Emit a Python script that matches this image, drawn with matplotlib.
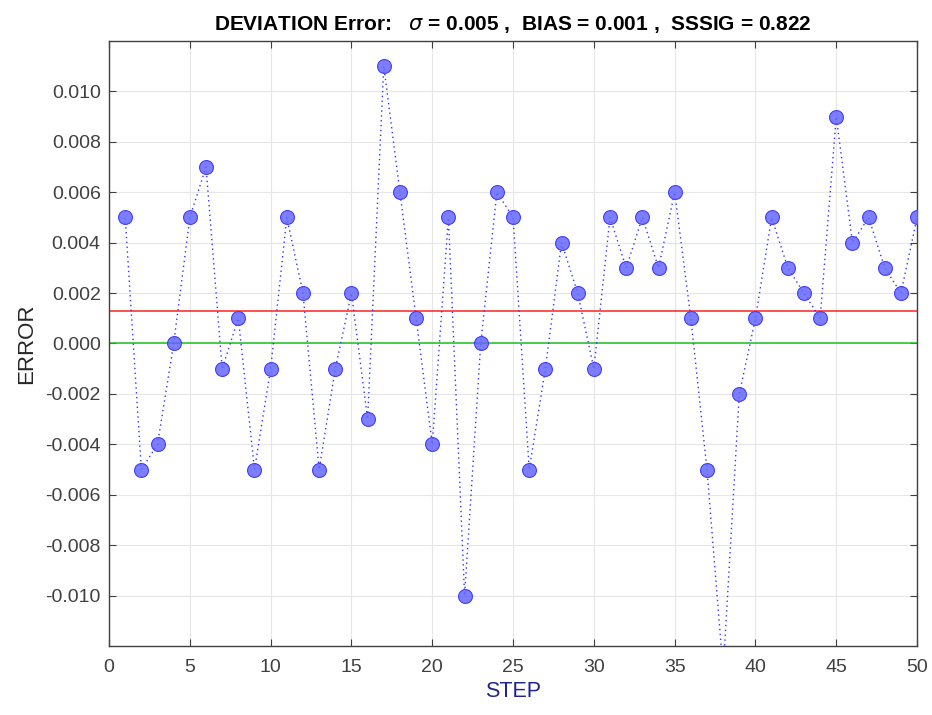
import numpy as np
import matplotlib
matplotlib.use('Agg')
import matplotlib.pyplot as plt

plt.rcParams['font.family'] = ['Liberation Sans', 'DejaVu Sans']

steps = list(range(1, 51))
errors = [0.005, -0.005, -0.004, 0.000, 0.005, 0.007, -0.001, 0.001, -0.005, -0.001,
          0.005, 0.002, -0.005, -0.001, 0.002, -0.003, 0.011, 0.006, 0.001, -0.004,
          0.005, -0.010, 0.000, 0.006, 0.005, -0.005, -0.001, 0.004, 0.002, -0.001,
          0.005, 0.003, 0.005, 0.003, 0.006, 0.001, -0.005, -0.013, -0.002, 0.001,
          0.005, 0.003, 0.002, 0.001, 0.009, 0.004, 0.005, 0.003, 0.002, 0.005]
bias = np.mean(errors)
sigma = 0.005
sssig = 0.822

fig = plt.figure(figsize=(9.32, 7.15), dpi=100)
ax = fig.add_axes([0.117, 0.0965, 0.867, 0.8462])

ax.axhline(bias, color='#ff2020', lw=1.1, zorder=2)
ax.axhline(0, color='#1fbf1f', lw=1.1, zorder=2)
ax.plot(steps, errors, color=(0.2, 0.2, 1.0), lw=1.0, dashes=(1, 2.5), zorder=3)
ax.plot(steps, errors, 'o', ms=10, mfc=(0.4, 0.4, 1.0, 0.85), mec=(0.25, 0.25, 1.0), mew=0.8,
        ls='none', zorder=4)

ax.set_xlim(0, 50)
ax.set_ylim(-0.012, 0.012)
ax.set_xticks(range(0, 51, 5))
yt = np.round(np.arange(-0.010, 0.0101, 0.002), 3)
ax.set_yticks(yt)
ax.set_yticklabels(['%.3f' % (v + 0.0) for v in yt])
ax.grid(True, color='#e6e6e6', lw=0.8)
ax.set_axisbelow(True)
ax.tick_params(direction='in', top=True, right=True, length=5, labelsize=14,
               labelcolor='#404040', color='#404040', pad=6)
ax.tick_params(axis='x', pad=9)
for s in ax.spines.values():
    s.set_color('#404040')
    s.set_linewidth(1.0)

ax.set_xlabel('STEP', fontsize=15.5, color='#22228f', labelpad=4)
ax.set_ylabel('ERROR', fontsize=16, color='#262626', labelpad=6)
ax.set_title(r'DEVIATION Error:   $\sigma$ = %.3f ,  BIAS = %.3f ,  SSSIG = %.3f' % (sigma, bias, sssig),
             fontsize=15, fontweight='bold', pad=8)

fig.savefig('out.png', dpi=100)
